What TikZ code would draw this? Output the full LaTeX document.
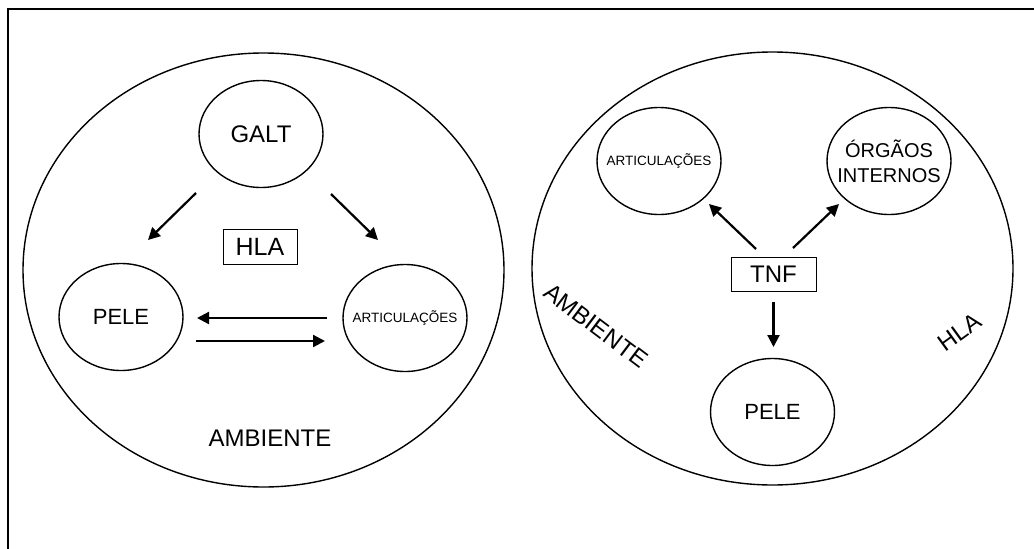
\documentclass[tikz,border=0pt]{standalone}
\usepackage{fontspec}
\setmainfont{Liberation Sans}
\usetikzlibrary{shapes.geometric,arrows.meta}
\begin{document}
\begin{tikzpicture}[x=1pt,y=-1pt,
  bigell/.style={draw,line width=1.4pt,ellipse,inner sep=0pt},
  smallell/.style={draw,line width=1.4pt,ellipse,inner sep=0pt,minimum width=124pt,minimum height=107pt},
  labbox/.style={draw,line width=1pt,inner sep=0pt},
  arr/.style={line width=2.2pt,-{Triangle[length=12pt,width=12pt]}},
  bigtxt/.style={font=\fontsize{24}{26}\selectfont},
  peletxt/.style={font=\fontsize{22}{24}\selectfont},
  smtxt/.style={font=\fontsize{13.5}{15}\selectfont}]
\useasboundingbox (0,0) rectangle (1034,549);
% frame
\coordinate (fr1) at (1034,9);
\coordinate (fr2) at (8,9);
\coordinate (fr3) at (8,549);
\draw[line width=2.6pt] (fr1) -- (fr2) -- (fr3);
% left diagram
\node[bigell,minimum width=481pt,minimum height=434pt] (L) at (263.5,270) {};
\node[smallell,label={[bigtxt]center:GALT}] (galt) at (261,134) {};
\node[smallell,label={[peletxt]center:PELE}] (peleL) at (121,317) {};
\node[smallell,label={[smtxt]center:ARTICULAÇÕES}] (artL) at (405,318) {};
\node[labbox,font=\fontsize{25}{27}\selectfont,minimum width=74pt,minimum height=35pt] (hlaL) at (260,246.5) {HLA};
\node[bigtxt] (ambL) at (270,438) {AMBIENTE};
\coordinate (a1s) at (196,193); \coordinate (a1e) at (148,240);
\coordinate (a2s) at (331,194); \coordinate (a2e) at (378,240);
\coordinate (a3s) at (327,318); \coordinate (a3e) at (197,318);
\coordinate (a4s) at (196,341); \coordinate (a4e) at (325,341);
\draw[arr] (a1s) -- (a1e);
\draw[arr] (a2s) -- (a2e);
\draw[arr] (a3s) -- (a3e);
\draw[arr] (a4s) -- (a4e);
% right diagram
\node[bigell,minimum width=481pt,minimum height=433pt] (R) at (772.5,268.5) {};
\node[smallell,label={[smtxt]center:ARTICULAÇÕES}] (artR) at (659,161) {};
\node[smallell,label={[font=\fontsize{20}{25}\selectfont,align=center]center:ÓRGÃOS\\INTERNOS}] (org) at (889,161) {};
\node[labbox,bigtxt,minimum width=85pt,minimum height=34pt] (tnf) at (773.5,274) {TNF};
\node[smallell,label={[peletxt]center:PELE}] (peleR) at (772.5,412) {};
\node[bigtxt,rotate=-37] (ambR) at (596,326) {AMBIENTE};
\node[bigtxt,rotate=36] (hlaR) at (960,332) {HLA};
\coordinate (b1s) at (756,249); \coordinate (b1e) at (709,204);
\coordinate (b2s) at (793,248); \coordinate (b2e) at (839,204);
\coordinate (b3s) at (773.5,302); \coordinate (b3e) at (773.5,347);
\draw[arr] (b1s) -- (b1e);
\draw[arr] (b2s) -- (b2e);
\draw[arr] (b3s) -- (b3e);
\end{tikzpicture}
\end{document}
